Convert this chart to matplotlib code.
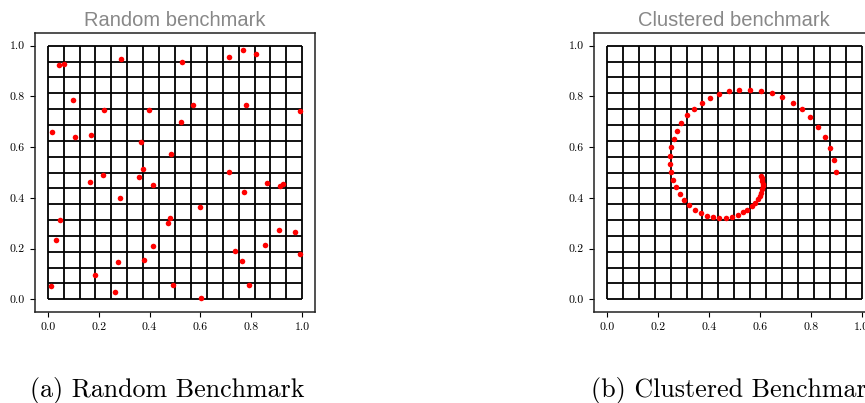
import numpy as np
import matplotlib
matplotlib.use("Agg")
import matplotlib.pyplot as plt

# random benchmark points
rand_x = [0.013, 0.046, 0.063, 0.286, 0.526, 0.711, 0.767, 0.817, 0.099, 0.221,
          0.399, 0.570, 0.780, 0.992, 0.522, 0.017, 0.107, 0.171, 0.367, 0.483,
          0.374, 0.359, 0.217, 0.164, 0.414, 0.712, 0.772, 0.861, 0.914, 0.925,
          0.282, 0.600, 0.050, 0.482, 0.471, 0.907, 0.971, 0.034, 0.412, 0.736,
          0.854, 0.991, 0.379, 0.275, 0.762, 0.184, 0.492, 0.789, 0.266, 0.601]
rand_y = [0.054, 0.925, 0.929, 0.947, 0.934, 0.955, 0.983, 0.968, 0.784, 0.748,
          0.748, 0.765, 0.767, 0.742, 0.701, 0.661, 0.639, 0.648, 0.619, 0.572,
          0.514, 0.484, 0.489, 0.461, 0.449, 0.501, 0.422, 0.460, 0.447, 0.453,
          0.398, 0.364, 0.312, 0.319, 0.299, 0.273, 0.264, 0.233, 0.209, 0.192,
          0.213, 0.180, 0.157, 0.148, 0.153, 0.094, 0.057, 0.058, 0.029, 0.007]

# clustered benchmark points (spiral)
clus_x = [0.899, 0.891, 0.876, 0.856, 0.829, 0.798, 0.767, 0.729, 0.688, 0.647,
          0.605, 0.563, 0.520, 0.481, 0.441, 0.404, 0.372, 0.341, 0.314, 0.291,
          0.274, 0.262, 0.253, 0.248, 0.246, 0.250, 0.258, 0.270, 0.285, 0.303,
          0.323, 0.345, 0.368, 0.393, 0.418, 0.441, 0.466, 0.490, 0.514, 0.534,
          0.551, 0.568, 0.582, 0.592, 0.600, 0.606, 0.609, 0.611, 0.611, 0.610,
          0.608, 0.605]
clus_y = [0.501, 0.549, 0.596, 0.640, 0.681, 0.718, 0.750, 0.776, 0.797, 0.813,
          0.823, 0.827, 0.827, 0.821, 0.810, 0.794, 0.776, 0.751, 0.725, 0.696,
          0.665, 0.632, 0.599, 0.567, 0.534, 0.501, 0.469, 0.441, 0.415, 0.391,
          0.372, 0.354, 0.340, 0.329, 0.323, 0.319, 0.320, 0.324, 0.332, 0.343,
          0.354, 0.366, 0.381, 0.395, 0.408, 0.420, 0.433, 0.445, 0.456, 0.467,
          0.478, 0.488]

titles = ["Random benchmark", "Clustered benchmark"]
captions = ["(a) Random Benchmark", "(b) Clustered Benchmark"]
n_cells = 16

plt.rcParams["axes.formatter.use_mathtext"] = True

fig = plt.figure(figsize=(8.65, 4.03), dpi=100)
ax_a = fig.add_axes([0.0405, 0.2258, 0.3237, 0.6923])
ax_b = fig.add_axes([0.687, 0.2258, 0.3237, 0.6923])

lines = np.linspace(0, 1, n_cells + 1)
for ax, xs, ys, title in [(ax_a, rand_x, rand_y, titles[0]),
                          (ax_b, clus_x, clus_y, titles[1])]:
    ax.vlines(lines, 0, 1, color="black", lw=1.3, zorder=1)
    ax.hlines(lines, 0, 1, color="black", lw=1.3, zorder=1)
    ax.scatter(xs, ys, s=16, color="red", linewidths=0, zorder=3)
    ax.set_xlim(-0.05, 1.05)
    ax.set_ylim(-0.05, 1.05)
    ax.set_xticks([0.0, 0.2, 0.4, 0.6, 0.8, 1.0])
    ax.set_yticks([0.0, 0.2, 0.4, 0.6, 0.8, 1.0])
    ax.xaxis.set_major_formatter(matplotlib.ticker.FormatStrFormatter("%.1f"))
    ax.yaxis.set_major_formatter(matplotlib.ticker.FormatStrFormatter("%.1f"))
    ax.tick_params(length=3.5, width=0.8, labelsize=8.5, pad=4)
    for lab in ax.get_xticklabels() + ax.get_yticklabels():
        lab.set_fontfamily("cmr10")
    for sp in ax.spines.values():
        sp.set_linewidth(1.1)
        sp.set_color("#222222")
    ax.set_title(title, fontsize=14.5, color="#888888",
                 fontfamily="Liberation Sans", pad=5)

fig.text(167.5 / 865, 6 / 403, captions[0], ha="center", va="baseline",
         fontsize=18.7, fontfamily="cmr10")
fig.text(736 / 865, 6 / 403, captions[1], ha="center", va="baseline",
         fontsize=18.7, fontfamily="cmr10")

fig.savefig("out.png", dpi=100)
